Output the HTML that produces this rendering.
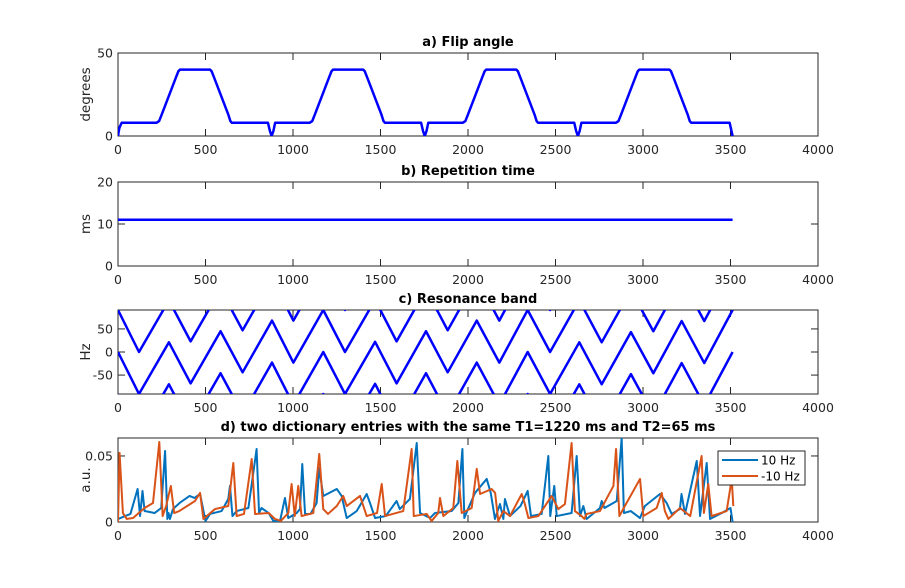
<!DOCTYPE html>
<html><head><meta charset="utf-8"><style>
html,body{margin:0;padding:0;background:#fff;}
svg{display:block;font-family:"DejaVu Sans","Liberation Sans",sans-serif;}
</style></head><body>
<svg id="fig" width="905" height="588" viewBox="0 0 905 588" xmlns="http://www.w3.org/2000/svg"></svg>
<script>
// ---- data ----
const xTicks=[0,500,1000,1500,2000,2500,3000,3500,4000];
const flipT=[0,8,21,221,235,250,330,345,354,526,535,550,630,642,650,857,868,878,888,898,
 1096,1110,1125,1205,1220,1229,1401,1410,1425,1505,1517,1525,1732,1743,1753,1763,1773,
 1971,1985,2000,2080,2095,2104,2276,2285,2300,2380,2392,2400,2607,2618,2628,2638,2648,
 2846,2860,2875,2955,2970,2979,3151,3160,3175,3255,3267,3275,3495,3512];
const flipV=[0,5,8,8,9,13,35,39,40,40,39,35,13,9,8,8,3,0,3,8,
 8,9,13,35,39,40,40,39,35,13,9,8,8,3,0,3,8,
 8,9,13,35,39,40,40,39,35,13,9,8,8,3,0,3,8,
 8,9,13,35,39,40,40,39,35,13,9,8,8,0];
const trT=[0,3512];
const trV=[11,11];
const bandT=[0,120,291,415,586,712,880,1002,1173,1297,1469,1592,1760,1884,2050,2179,2341,2469,2636,2764,2931,3059,3221,3350,3512];
const bandF=[0,-91,21,-68,45,-44,68,-23,91,0,113,23,136,47,159,68,182,91,203,112,225,136,249,158,273];
const bandPeriod=91;
const posT=[0,2,40,71,112,126,140,152,209,247,269,282,289,297,314,352,409,437,469,500,526,592,630,640,654,678,745,792,806,820,861,888,
 926,954,973,1021,1040,1053,1069,1100,1135,1150,1173,1250,1278,1307,1364,1421,1440,1469,1530,1592,1610,1668,1707,1726,1783,
 1811,1907,1945,1968,1979,2000,2040,2107,2130,2154,2183,2202,2211,2240,2300,2341,2360,2421,2459,2470,2493,2507,2592,2621,2640,2659,2678,
 2754,2764,2780,2850,2878,2891,2930,2983,3011,3097,3135,3164,3211,3220,3240,3307,3326,3364,3383,3450,3500,3512];
const posV=[0.0023,0.0023,0.0045,0.0061,0.025,0.0045,0.0235,0.0083,0.0068,0.0106,0.0538,0.0023,0.0068,0.0023,0.0098,0.0144,0.0197,0.0182,0.0212,0.0008,0.0061,0.0083,0.0174,0.0273,0.0045,0.0083,0.0106,0.0553,0.0068,0.0106,0.0068,0.0008,
 0.0008,0.0182,0.003,0.0068,0.0098,0.0439,0.0061,0.0061,0.0144,0.0409,0.0197,0.025,0.0197,0.003,0.0083,0.0212,0.0144,0.003,0.0045,0.0159,0.0098,0.0174,0.0598,0.0068,0.003,
 0.0068,0.0083,0.0144,0.0553,0.003,0.0098,0.022,0.0326,0.022,0.0023,0.0136,0.0023,0.0174,0.0045,0.0121,0.0235,0.0045,0.0061,0.05,0.0045,0.0273,0.0045,0.0068,0.05,0.0045,0.0121,0.0023,
 0.0106,0.0159,0.0106,0.0159,0.0636,0.0068,0.0083,0.003,0.0121,0.0212,0.0144,0.0061,0.0098,0.0212,0.0061,0.0462,0.0045,0.0447,0.0023,0.0068,0.0106,0];
const negT=[0,9,28,50,86,152,200,236,255,275,302,321,350,440,469,488,554,630,659,678,720,764,783,861,897,
 930,973,992,1010,1030,1049,1116,1150,1173,1200,1250,1287,1307,1383,1421,1480,1507,1526,1630,1678,1690,1764,1792,
 1830,1840,1859,1916,1939,1964,2021,2050,2069,2135,2155,2173,2202,2240,2307,2325,2345,2402,2478,2516,2554,2592,2611,2649,2665,
 2678,2754,2831,2846,2865,2890,2983,3002,3078,3107,3125,3145,3211,3270,3335,3348,3373,3392,3478,3507,3516];
const negV=[0,0.0523,0.0068,0.0023,0.003,0.0106,0.0144,0.0606,0.0045,0.0121,0.0273,0.0068,0.0083,0.0159,0.022,0.0023,0.0098,0.0121,0.0447,0.0045,0.0061,0.0477,0.0061,0.0068,0.0023,
 0.0008,0.0068,0.0288,0.0045,0.0273,0.0045,0.0068,0.0515,0.0098,0.0061,0.0121,0.0197,0.0121,0.0197,0.0045,0.0068,0.0288,0.0045,0.0083,0.0553,0.0045,0.0061,0.0008,
 0.0068,0.0182,0.0045,0.0106,0.0462,0.0068,0.0106,0.0402,0.0212,0.025,0.022,0.0008,0.0083,0.0045,0.0212,0.0136,0.003,0.0045,0.0197,0.0098,0.0136,0.0598,0.0083,0.0045,0.0023,
 0.0061,0.0083,0.0273,0.0553,0.0045,0.0106,0.0326,0.0045,0.0106,0.022,0.0083,0.0023,0.0106,0.0045,0.05,0.0068,0.0288,0.0045,0.0083,0.0326,0.0121];

// ---- drawing ----
const NS="http://www.w3.org/2000/svg";
const svg=document.getElementById('fig');
function el(tag,attrs,parent){const e=document.createElementNS(NS,tag);for(const k in attrs)e.setAttribute(k,attrs[k]);(parent||svg).appendChild(e);return e;}
const L=118,R=818,XMAX=4000;
function sx(t){return L+(R-L)*t/XMAX;}
function makeAxes(name,top,bot,ymin,ymax,yTicks,yLabels,title,ylabel){
  const g=el('g',{});
  
  
  const sy=v=>bot-(bot-top)*(v-ymin)/(ymax-ymin);
  const clipId='clip-'+name;
  const cp=el('clipPath',{id:clipId},g);
  el('rect',{x:L,y:top,width:R-L,height:bot-top},cp);
  const t=el('text',{x:(L+R)/2,y:top-7,'text-anchor':'middle','font-size':'13','font-weight':'bold',fill:'#000'},g);
  t.textContent=title;
  
  
  xTicks.forEach(v=>{
    const x=sx(v);
    el('line',{x1:x,x2:x,y1:bot,y2:bot-7,stroke:'#262626','stroke-width':1},g);
    el('line',{x1:x,x2:x,y1:top,y2:top+7,stroke:'#262626','stroke-width':1},g);
    const tl=el('text',{x:x,y:bot+18,'text-anchor':'middle','font-size':'12.5',fill:'#262626'},g);
    tl.textContent=v;
    
    
  });
  yTicks.forEach((v,i)=>{
    const y=sy(v);
    el('line',{x1:L,x2:L+7,y1:y,y2:y,stroke:'#262626','stroke-width':1},g);
    el('line',{x1:R,x2:R-7,y1:y,y2:y,stroke:'#262626','stroke-width':1},g);
    const tl=el('text',{x:L-5,y:y+4.5,'text-anchor':'end','font-size':'12.5',fill:'#262626'},g);
    tl.textContent=yLabels[i];
    
    
  });
  const yl=el('text',{x:0,y:0,'text-anchor':'middle','font-size':'13.5',fill:'#262626',transform:`translate(${L-28},${(top+bot)/2}) rotate(-90)`},g);
  yl.textContent=ylabel;
  
  
  const box=el('rect',{x:L,y:top,width:R-L,height:bot-top,fill:'none',stroke:'#262626','stroke-width':1},g);
  
  
  const plot=el('g',{'clip-path':`url(#${clipId})`},g);
  return {sy,plot};
}
function line(ax,ts,vs,color,w,name,off){
  off=off||0;
  const d=ts.map((t,i)=>(i?'L':'M')+sx(t).toFixed(2)+','+ax.sy(vs[i]+off).toFixed(2)).join('');
  const p=el('path',{d:d,fill:'none',stroke:color,'stroke-width':w,'stroke-linejoin':'round'},ax.plot);
  
  
  return p;
}
const a=makeAxes('flip-angle-axes',53,136,0,50,[0,50],['0','50'],'a) Flip angle','degrees');
line(a,flipT,flipV,'#0000ff',2.5,'flip-angle-line');
const b=makeAxes('repetition-time-axes',182,266,0,20,[0,10,20],['0','10','20'],'b) Repetition time','ms');
line(b,trT,trV,'#0000ff',2.5,'repetition-time-line');
const c=makeAxes('resonance-band-axes',310,394,-91,91,[-50,0,50],['-50','0','50'],'c) Resonance band','Hz');
for(let k=-3;k<=1;k++){line(c,bandT,bandF,'#0000ff',2.5,'resonance-band-line',k*bandPeriod);}
const d=makeAxes('signal-axes',438,522,0,0.0636,[0,0.05],['0','0.05'],'d) two dictionary entries with the same T1=1220 ms and T2=65 ms','a.u.');
line(d,posT,posV,'#0072BD',2,'series-10hz');
line(d,negT,negV,'#D95319',2,'series-minus-10hz');
// legend
const lg=el('g',{});


el('rect',{x:718,y:451,width:87,height:34,fill:'#fff',stroke:'#262626','stroke-width':1},lg);
el('line',{x1:722,x2:758,y1:460,y2:460,stroke:'#0072BD','stroke-width':2},lg);
el('line',{x1:722,x2:758,y1:476,y2:476,stroke:'#D95319','stroke-width':2},lg);
const e1=el('text',{x:761,y:464.5,'font-size':'12',fill:'#000'},lg);e1.textContent='10 Hz';


const e2=el('text',{x:761,y:480.5,'font-size':'12',fill:'#000'},lg);e2.textContent='-10 Hz';


</script>
</body></html>
